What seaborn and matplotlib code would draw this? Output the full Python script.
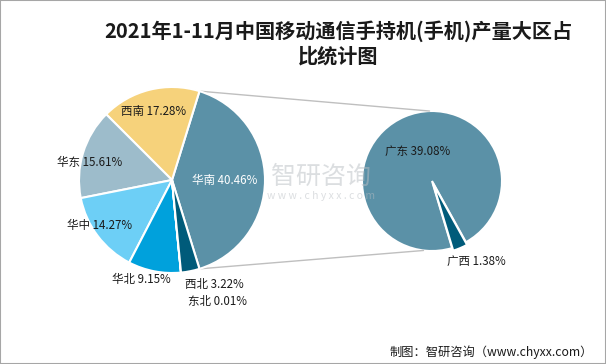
import numpy as np
import seaborn as sns
import matplotlib.pyplot as plt
from matplotlib.patches import ConnectionPatch, Rectangle

# data
regions = ["华南", "西南", "华东", "华中", "华北", "东北", "西北"]
shares = [40.46, 17.28, 15.61, 14.27, 9.15, 0.01, 3.22]
sub_regions = ["广东", "广西"]
sub_shares = [39.08, 1.38]

title = "2021年1-11月中国移动通信手持机(手机)产量大区占\n比统计图"
source = "制图：智研咨询（www.chyxx.com）"

sns.set_theme(style="white")
plt.rcParams["font.family"] = ["Noto Sans CJK SC", "DejaVu Sans"]

main_colors = sns.color_palette(["#5b91a7", "#f6d27b", "#9dbccb", "#6dcff6",
                                 "#00a1dc", "#005b7a", "#005b7a"])
sub_colors = sns.color_palette(["#5b91a7", "#005b7a"])

fig = plt.figure(figsize=(6.06, 3.64), dpi=100)
W, H = 606, 364

def pie_axes(cx, cy, r):
    ax = fig.add_axes([(cx - r) / W, (H - cy - r) / H, 2 * r / W, 2 * r / H])
    return ax

# left pie
ax1 = pie_axes(172, 180, 93)
start = -shares[0] / 2 * 3.6
wedges1, _ = ax1.pie(shares, colors=main_colors, startangle=start,
                     counterclock=True, radius=1,
                     wedgeprops=dict(edgecolor="white", linewidth=1.5))
ax1.set_xlim(-1, 1)
ax1.set_ylim(-1, 1)
ax1.set_aspect("equal")

label_r = [0.57, 0.76, 0.91, 0.92, 1.12, 1.39, 1.21]
label_da = [0, 1, 5, -5, -6, 15, 11]
for w, name, val, r, da in zip(wedges1, regions, shares, label_r, label_da):
    ang = np.deg2rad((w.theta1 + w.theta2) / 2 + da)
    col = "white" if name == "华南" else "#1a1a1a"
    ax1.text(r * np.cos(ang), r * np.sin(ang), f"{name} {val:.2f}%",
             ha="center", va="center", fontsize=8.3, color=col)

# right pie
ax2 = pie_axes(432, 181, 70)
wedges2, _ = ax2.pie(sub_shares, colors=sub_colors, startangle=-61,
                     counterclock=True, radius=1, explode=[0, 0.04],
                     wedgeprops=dict(edgecolor="white", linewidth=1.5))
ax2.set_xlim(-1, 1)
ax2.set_ylim(-1, 1)
ax2.set_aspect("equal")

sub_r = [0.47, 1.32]
sub_da = [4, 6]
for w, name, val, r, da in zip(wedges2, sub_regions, sub_shares, sub_r, sub_da):
    ang = np.deg2rad((w.theta1 + w.theta2) / 2 + da)
    ax2.text(r * np.cos(ang), r * np.sin(ang), f"{name} {val:.2f}%",
             ha="center", va="center", fontsize=8.3, color="#1a1a1a")

# connector lines
w0 = wedges1[0]
for a_left, a_right in [(w0.theta2, 92), (w0.theta1, -97)]:
    t1, t2 = np.deg2rad(a_left), np.deg2rad(a_right)
    con = ConnectionPatch(xyA=(np.cos(t1), np.sin(t1)), coordsA=ax1.transData,
                          xyB=(np.cos(t2), np.sin(t2)), coordsB=ax2.transData,
                          color="#bfbfbf", linewidth=1)
    fig.add_artist(con)
ax1.set_zorder(3)

# watermark
fig.text(0.53, 0.515, "智研咨询", fontsize=18, color="#b9bec3", alpha=0.5,
         ha="center", va="center", zorder=5)
fig.text(0.53, 0.462, "w w w . c h y x x . c o m", fontsize=7.5, color="#b9bec3",
         alpha=0.5, ha="center", va="center", zorder=5)

fig.text(0.558, 0.945, title, ha="center", va="top", fontsize=14.5,
         fontweight="bold", color="#1a1a1a", linespacing=1.2)
fig.text(0.978, 0.033, source, ha="right", va="center", fontsize=8.8,
         color="#1a1a1a")

fig.add_artist(Rectangle((0, 0), 1, 1, transform=fig.transFigure, fill=False,
                         edgecolor="#a6a6a6", linewidth=1.5))

fig.savefig("out.png", dpi=100)
